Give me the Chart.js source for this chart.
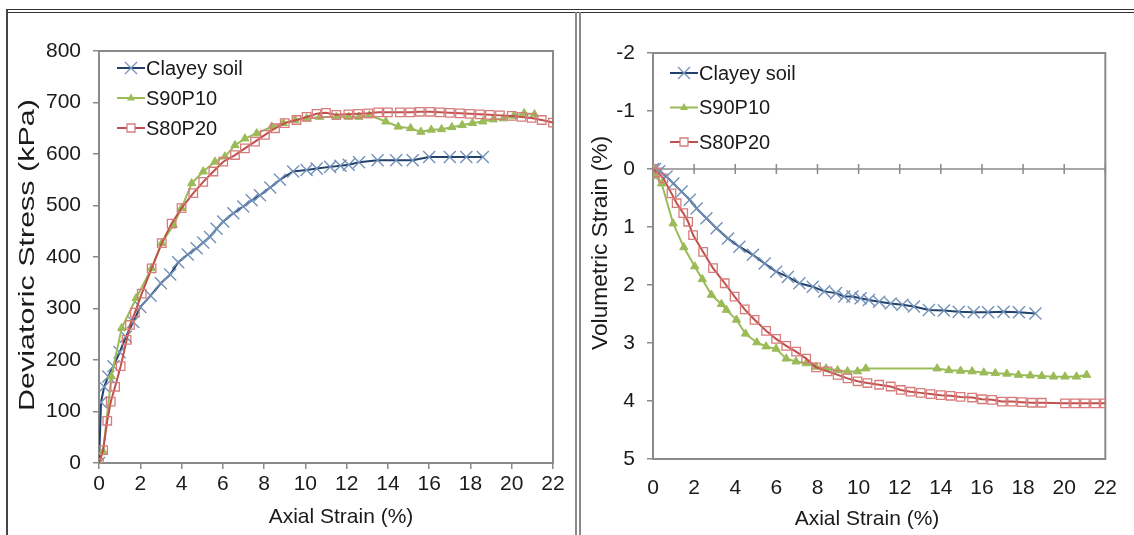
<!DOCTYPE html>
<html>
<head>
<meta charset="utf-8">
<script src="https://cdn.jsdelivr.net/npm/chart.js@4.4.1/dist/chart.umd.min.js"></script>
<style>
  html, body { margin: 0; padding: 0; background: #fff; }
  #page { position: relative; width: 1134px; height: 535px; overflow: hidden; background: #fff; }
  .ln { position: absolute; }
  #left { position: absolute; left: 10px; top: 14px; width: 560px; height: 521px; }
  #right { position: absolute; left: 582px; top: 14px; width: 552px; height: 521px; }
</style>
</head>
<body>
<div id="page">
  <div class="ln" style="left:6px;top:9px;width:1128px;height:1px;background:#333"></div>
  <div class="ln" style="left:6px;top:12px;width:1128px;height:1px;background:#333"></div>
  <div class="ln" style="left:6px;top:9px;width:2px;height:526px;background:#444"></div>
  <div class="ln" style="left:575px;top:12px;width:2px;height:523px;background:#8a8a8a"></div>
  <div class="ln" style="left:579px;top:12px;width:2px;height:523px;background:#8a8a8a"></div>
  <div id="left"><canvas id="chartL"></canvas></div>
  <div id="right"><canvas id="chartR"></canvas></div>
</div>
<script>
// series names
var seriesNames = ['Clayey soil', 'S90P10', 'S80P20'];

// left chart: axial strain (%) vs deviatoric stress (kPa)
var clayAxialL = [0, 0.1, 0.25, 0.45, 0.7, 1.0, 1.3, 1.66, 2.0, 2.5, 3.0, 3.45, 3.84, 4.3, 4.73, 5.05, 5.38, 5.7, 6.02, 6.51, 6.99, 7.4, 7.8, 8.3, 8.77, 9.41, 10.06, 10.55, 11.2, 11.7, 12.1, 12.6, 13.5, 14.4, 15.2, 16.0, 17.0, 17.8, 18.6];
var clayStress = [0, 118, 148, 168, 188, 215, 245, 274, 303, 325, 349, 366, 390, 405, 417, 428, 439, 455, 469, 485, 498, 510, 520, 535, 550, 566, 569, 572, 575, 577, 579, 584, 588, 588, 588, 594, 594, 594, 594];

var s90AxialL = [0, 0.2, 0.6, 1.1, 1.8, 2.55, 3.04, 3.6, 4.0, 4.49, 5.05, 5.62, 6.1, 6.59, 7.07, 7.64, 8.37, 8.93, 9.5, 10.06, 10.7, 11.5, 12.1, 12.6, 13.1, 13.9, 14.5, 15.1, 15.6, 16.1, 16.6, 17.1, 17.6, 18.1, 18.6, 19.1, 19.6, 20.1, 20.6, 21.1];
var s90Stress = [0, 22, 168, 262, 320, 378, 427, 462, 495, 543, 566, 585, 595, 617, 630, 640, 653, 660, 666, 669, 672, 672, 672, 672, 675, 663, 653, 650, 643, 647, 648, 652, 656, 660, 663, 667, 669, 674, 679, 677];

var s80AxialL = [0, 0.2, 0.4, 0.57, 0.78, 1.05, 1.34, 1.5, 1.74, 2.07, 2.55, 3.04, 3.52, 4.0, 4.57, 5.05, 5.54, 6.02, 6.59, 7.07, 7.56, 8.04, 8.53, 9.0, 9.57, 10.06, 10.54, 11.0, 11.5, 12.08, 12.56, 13.05, 13.53, 14.0, 14.58, 15.07, 15.55, 16.04, 16.52, 17.0, 17.49, 17.97, 18.46, 18.94, 19.43, 20.0, 20.47, 20.96, 21.45, 22.0];
var s80Stress = [0, 25, 82, 119, 148, 188, 239, 268, 292, 329, 378, 427, 465, 495, 524, 546, 566, 585, 598, 611, 624, 637, 650, 660, 666, 672, 678, 680, 676, 677, 678, 679, 681, 681, 681, 681, 682, 682, 681, 680, 679, 678, 677, 676, 675, 674, 672, 670, 666, 661];

// right chart: axial strain (%) vs volumetric strain (%)
var clayAxialR = [0, 0.1, 0.3, 0.66, 0.99, 1.39, 1.79, 2.12, 2.6, 3.09, 3.65, 4.2, 4.86, 5.43, 5.99, 6.56, 7.12, 7.77, 8.33, 8.9, 9.3, 9.7, 10.1, 10.5, 11.0, 11.56, 12.13, 12.69, 13.42, 14.15, 14.87, 15.6, 16.3, 17.05, 17.8, 18.6];
var clayVol = [0, 0, 0.04, 0.13, 0.25, 0.39, 0.53, 0.68, 0.85, 1.02, 1.2, 1.34, 1.48, 1.63, 1.77, 1.86, 1.97, 2.03, 2.11, 2.14, 2.2, 2.2, 2.23, 2.26, 2.29, 2.32, 2.34, 2.37, 2.43, 2.44, 2.46, 2.47, 2.47, 2.46, 2.47, 2.49];

var s90AxialR = [0, 0.1, 0.42, 0.98, 1.5, 2.03, 2.4, 2.84, 3.33, 3.57, 4.06, 4.5, 5.05, 5.5, 5.99, 6.48, 6.96, 7.45, 7.93, 8.42, 8.98, 9.46, 9.95, 10.35, 13.82, 14.39, 14.96, 15.52, 16.09, 16.65, 17.21, 17.78, 18.35, 18.91, 19.48, 20.04, 20.6, 21.09];
var s90Vol = [0, 0.12, 0.25, 0.94, 1.35, 1.68, 1.9, 2.17, 2.33, 2.43, 2.6, 2.84, 2.99, 3.06, 3.1, 3.27, 3.32, 3.35, 3.41, 3.44, 3.47, 3.49, 3.49, 3.44, 3.44, 3.47, 3.48, 3.49, 3.51, 3.52, 3.53, 3.55, 3.56, 3.57, 3.58, 3.58, 3.58, 3.55];

var s80AxialR = [0, 0.2, 0.5, 0.9, 1.15, 1.47, 1.71, 1.95, 2.44, 2.92, 3.49, 3.97, 4.46, 4.94, 5.5, 5.99, 6.48, 6.96, 7.45, 7.93, 8.49, 8.98, 9.46, 9.95, 10.43, 11.0, 11.56, 12.05, 12.53, 13.02, 13.5, 13.99, 14.47, 14.96, 15.52, 16.0, 16.49, 16.97, 17.46, 17.94, 18.43, 18.91, 20.04, 20.53, 21.01, 21.5, 21.98];
var s80Vol = [0, 0.06, 0.16, 0.42, 0.59, 0.76, 0.91, 1.14, 1.43, 1.71, 1.97, 2.2, 2.42, 2.6, 2.79, 2.93, 3.05, 3.15, 3.27, 3.42, 3.49, 3.55, 3.61, 3.66, 3.69, 3.72, 3.75, 3.81, 3.84, 3.86, 3.88, 3.9, 3.91, 3.93, 3.94, 3.97, 3.98, 4.01, 4.01, 4.02, 4.03, 4.03, 4.04, 4.04, 4.04, 4.04, 4.04];

var axialTicks = [0, 2, 4, 6, 8, 10, 12, 14, 16, 18, 20, 22];

var FONT = '"Liberation Sans", Arial, sans-serif';
var AXIS_GREY = '#8a8a8a';
var TEXT = '#1a1a1a';

function pts(xs, ys) {
    return xs.map(function (x, i) { return { x: x, y: ys[i] }; });
}

function makeSets(cx, cy, gx, gy, rx, ry) {
    return [{
        label: seriesNames[0], data: pts(cx, cy), showLine: true, order: 2,
        borderColor: '#22416b', borderWidth: 2,
        pointStyle: 'crossRot', pointRadius: 8.5, pointBorderColor: '#7392b9',
        pointBackgroundColor: '#7392b9', pointBorderWidth: 1.4
    }, {
        label: seriesNames[1], data: pts(gx, gy), showLine: true, order: 1,
        borderColor: '#9bbb59', borderWidth: 2,
        pointStyle: 'triangle', pointRadius: 4.8, pointBorderColor: '#9bbb59',
        pointBackgroundColor: '#9bbb59', pointBorderWidth: 1
    }, {
        label: seriesNames[2], data: pts(rx, ry), showLine: true, order: 0,
        borderColor: '#c0504d', borderWidth: 2,
        pointStyle: 'rect', pointRadius: 6, pointBorderColor: '#d77b7b',
        pointBackgroundColor: 'rgba(255,255,255,0)', pointBorderWidth: 1.3
    }];
}

// hand-drawn legend inside the plot, like Excel's
function drawMarker(ctx, style, x, y) {
    ctx.beginPath();
    if (style === 'crossRot') {
        ctx.moveTo(x - 6, y - 6); ctx.lineTo(x + 6, y + 6);
        ctx.moveTo(x - 6, y + 6); ctx.lineTo(x + 6, y - 6);
        ctx.stroke();
    } else if (style === 'triangle') {
        ctx.moveTo(x, y - 4.5); ctx.lineTo(x + 4, y + 2.5); ctx.lineTo(x - 4, y + 2.5);
        ctx.closePath(); ctx.fill();
    } else {
        ctx.fillStyle = '#fff';
        ctx.rect(x - 4, y - 4, 8, 8); ctx.fill(); ctx.stroke();
    }
}

var legendPlugin = {
    id: 'excelLegend',
    afterDraw: function (chart, args, opts) {
        var ctx = chart.ctx;
        ctx.save();
        ctx.font = '20px ' + FONT;
        ctx.textBaseline = 'middle';
        chart.data.datasets.forEach(function (ds, i) {
            var y = opts.y + i * opts.gap;
            ctx.strokeStyle = ds.borderColor;
            ctx.lineWidth = 2;
            ctx.beginPath();
            ctx.moveTo(opts.x, y); ctx.lineTo(opts.x + 28, y); ctx.stroke();
            ctx.strokeStyle = ds.pointBorderColor;
            ctx.fillStyle = ds.pointBackgroundColor;
            ctx.lineWidth = 1.3;
            drawMarker(ctx, ds.pointStyle, opts.x + 14, y);
            ctx.fillStyle = TEXT;
            ctx.fillText(ds.label, opts.x + 29, y + 1);
        });
        ctx.restore();
    }
};

// axis titles placed where the original puts them (y title is stretched along its length)
var titlePlugin = {
    id: 'axisTitles',
    afterDraw: function (chart, args, opts) {
        var ctx = chart.ctx;
        ctx.save();
        ctx.fillStyle = TEXT;
        ctx.textAlign = 'center';
        ctx.textBaseline = 'middle';
        ctx.font = '21px ' + FONT;
        ctx.fillText(opts.xText, opts.xAt[0], opts.xAt[1]);
        ctx.translate(opts.yAt[0], opts.yAt[1]);
        ctx.rotate(-Math.PI / 2);
        ctx.font = opts.ySize + 'px ' + FONT;
        var w = ctx.measureText(opts.yText).width;
        ctx.scale(opts.yLen / w, 1);
        ctx.fillText(opts.yText, 0, 0);
        ctx.restore();
    }
};

var framePlugin = {
    id: 'plotFrame',
    beforeDatasetsDraw: function (chart, args, opts) {
        var a = chart.chartArea, ctx = chart.ctx;
        ctx.save();
        ctx.strokeStyle = AXIS_GREY;
        ctx.lineWidth = 2;
        ctx.strokeRect(a.left, a.top, a.right - a.left, a.bottom - a.top);
        if (opts.zeroLine) {
            var y0 = chart.scales.y.getPixelForValue(0);
            ctx.lineWidth = 1.5;
            ctx.beginPath();
            ctx.moveTo(a.left, y0); ctx.lineTo(a.right, y0);
            chart.scales.x.ticks.forEach(function (t) {
                var px = chart.scales.x.getPixelForValue(t.value);
                ctx.moveTo(px, y0 - 5); ctx.lineTo(px, y0 + 5);
            });
            ctx.stroke();
        }
        ctx.restore();
    }
};

function axisX(height, tickLen, pad) {
    return {
        type: 'linear', min: 0, max: 22,
        afterBuildTicks: function (s) { s.ticks = axialTicks.map(function (v) { return { value: v }; }); },
        afterFit: function (s) { s.height = height; },
        border: { display: false },
        grid: { drawOnChartArea: false, drawTicks: tickLen > 0, tickLength: tickLen, color: AXIS_GREY, lineWidth: 1.5 },
        ticks: { padding: pad, color: TEXT, font: { family: FONT, size: 21 } }
    };
}

function axisY(width, min, max, step, reverse) {
    return {
        type: 'linear', min: min, max: max, reverse: reverse,
        afterFit: function (s) { s.width = width; },
        border: { display: false },
        grid: { drawOnChartArea: false, tickLength: 6, color: AXIS_GREY, lineWidth: 1.5 },
        ticks: { stepSize: step, padding: 12, color: TEXT, font: { family: FONT, size: 21 } }
    };
}

new Chart(document.getElementById('chartL'), {
    type: 'scatter',
    data: { datasets: makeSets(clayAxialL, clayStress, s90AxialL, s90Stress, s80AxialL, s80Stress) },
    options: {
        responsive: true, maintainAspectRatio: false, animation: false,
        layout: { padding: { top: 37, right: 17, left: 0, bottom: 0 } },
        scales: {
            x: axisX(72, 6, 3),
            y: axisY(89, 0, 800, 100, false)
        },
        plugins: {
            legend: { display: false }, tooltip: { enabled: false },
            excelLegend: { x: 107, y: 54, gap: 30 },
            plotFrame: { zeroLine: false },
            axisTitles: { xText: 'Axial Strain (%)', xAt: [331, 503],
                          yText: 'Deviatoric Stress (kPa)', yAt: [18, 241], ySize: 22, yLen: 312 }
        }
    },
    plugins: [framePlugin, legendPlugin, titlePlugin]
});

new Chart(document.getElementById('chartR'), {
    type: 'scatter',
    data: { datasets: makeSets(clayAxialR, clayVol, s90AxialR, s90Vol, s80AxialR, s80Vol) },
    options: {
        responsive: true, maintainAspectRatio: false, animation: false,
        layout: { padding: { top: 39, right: 27, left: 0, bottom: 0 } },
        scales: {
            x: axisX(76, 0, 17),
            y: axisY(71, -2, 5, 1, true)
        },
        plugins: {
            legend: { display: false }, tooltip: { enabled: false },
            excelLegend: { x: 88, y: 59, gap: 34.5 },
            plotFrame: { zeroLine: true },
            axisTitles: { xText: 'Axial Strain (%)', xAt: [285, 505],
                          yText: 'Volumetric Strain (%)', yAt: [19, 229], ySize: 22, yLen: 214 }
        }
    },
    plugins: [framePlugin, legendPlugin, titlePlugin]
});
</script>
</body>
</html>
